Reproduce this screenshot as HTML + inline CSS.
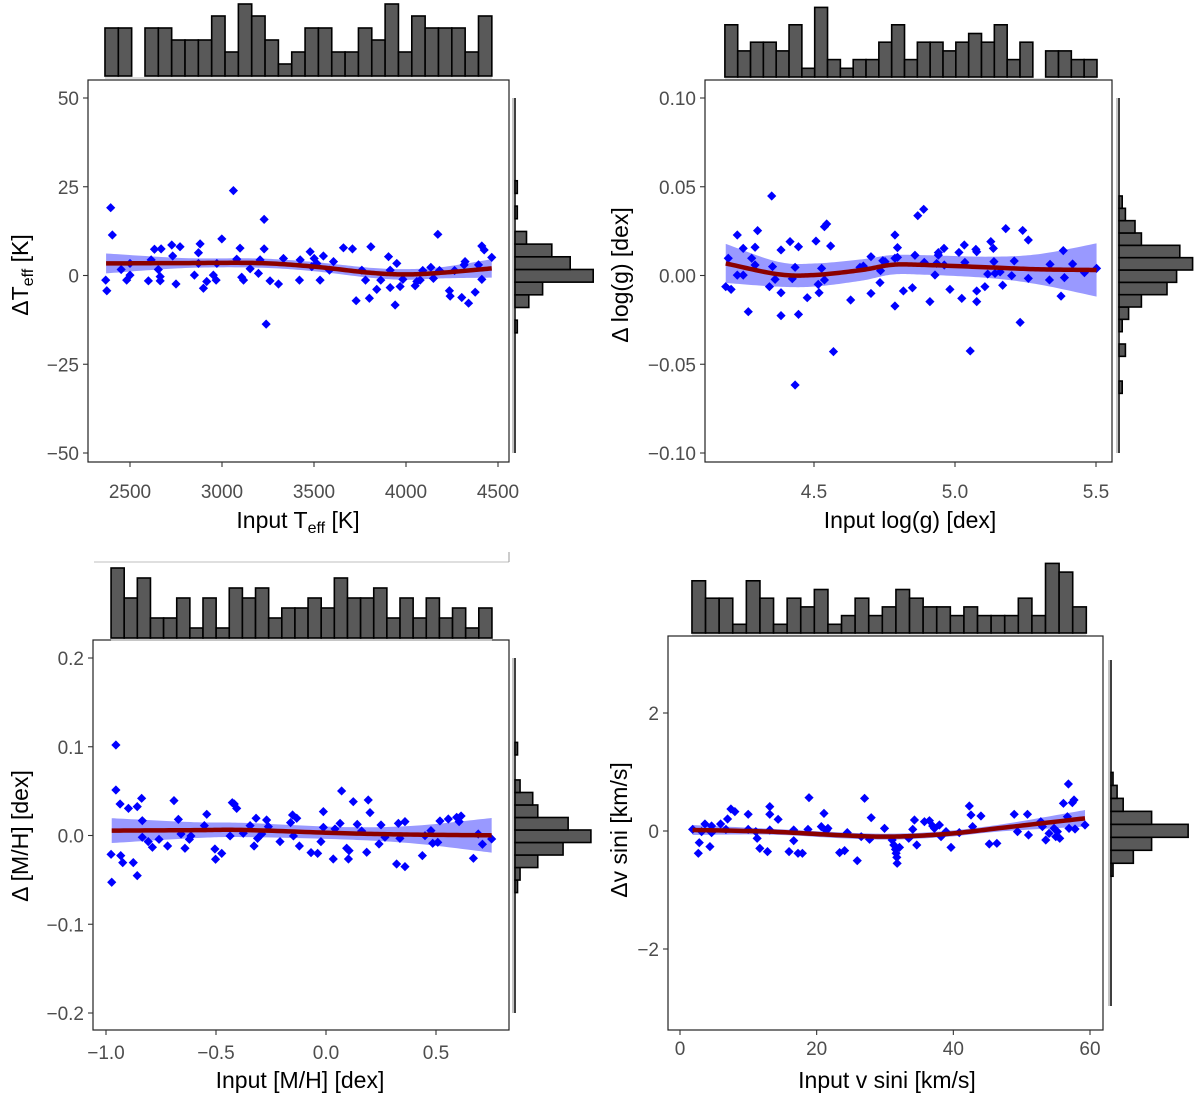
<!DOCTYPE html>
<html><head><meta charset="utf-8"><style>
html,body{margin:0;padding:0;background:#fff;}
svg{display:block;font-family:"Liberation Sans",sans-serif;}
</style></head><body>
<svg id="chart" width="1200" height="1099" viewBox="0 0 1200 1099" xmlns="http://www.w3.org/2000/svg">
<line x1="94" y1="562" x2="509" y2="562" stroke="#cccccc" stroke-width="1.2"/>
<line x1="509" y1="552" x2="509" y2="562" stroke="#999999" stroke-width="1"/>
</svg>
<script>
// ---------- Panel 1: Teff ----------
const p1x=[2368,2374,2395,2404,2452,2482,2500,2500,2600,2615,2633,2654,2669,2664,2664,2727,2732,2750,2772,2850,2872,2881,2872,2899,2917,2953,2968,2972,2999,3062,3080,3098,3107,3117,3153,3198,3207,3229,3229,3240,3261,3307,3334,3421,3425,3479,3488,3501,3515,3533,3551,3584,3606,3660,3709,3729,3760,3780,3801,3809,3841,3863,3905,3914,3914,3941,3950,3968,3983,4050,4059,4077,4091,4135,4149,4173,4182,4236,4240,4264,4303,4316,4321,4340,4376,4394,4412,4412,4425,4466];
const p1y=[-1.3,-4.3,19.1,11.4,1.7,-1.3,0.1,3.4,-1.5,4.4,7.4,1.7,7.5,-0.3,-1.5,8.6,5.5,-2.4,8.1,0.1,6.4,8.9,3.4,-3.6,-1.7,0.1,-1.3,3.4,10.3,23.9,4.6,7.7,-0.5,-1.3,1.9,0.6,4.4,15.8,7.5,-13.7,-1.5,-2.4,4.8,-1.3,4.4,6.7,2.5,4.8,3.4,-1.3,5.5,1.5,3.9,7.8,7.5,-7.1,1.5,-1.3,-6.4,8.1,-3.9,-1.3,5.3,-3.4,1.5,-8.3,3.4,-3.1,-1.1,-2.9,-1.7,-1.3,1.4,2.3,-0.8,11.6,1.4,-4.3,-5.8,1.4,-6.2,3.0,3.9,-7.8,-4.7,3.0,-1.1,8.3,7.2,5.1];
const f1x=[2370,2800,3200,3500,3800,4000,4200,4466];
const f1y=[3.4,3.5,3.5,2.5,0.8,0.3,0.8,2.0];
const f1w=[2.8,1.4,1.3,1.3,1.4,1.5,1.6,2.6];
const h1start=2364, h1width=72.5;
const h1counts=[4,4,0,4,4,3,3,3,5,2,6,5,3,1,2,4,4,2,2,4,3,6,2,5,4,4,4,2,5];
const r1start=-16.15, r1width=3.57;
const r1counts=[1,0,6,12,34,24,16,5,0,1,0,1];
const x1ticks=[2500,3000,3500,4000,4500];
const y1ticks=[50,25,0,-25,-50];
const y1labels=["50","25","0","\u221225","\u221250"];

// ---------- Panel 2: log g ----------
const p2x=[4.187,4.196,4.206,4.228,4.228,4.249,4.249,4.267,4.279,4.291,4.291,4.300,4.342,4.350,4.353,4.362,4.383,4.383,4.383,4.415,4.423,4.433,4.433,4.445,4.445,4.476,4.507,4.515,4.518,4.527,4.537,4.537,4.545,4.559,4.569,4.630,4.663,4.675,4.702,4.702,4.734,4.736,4.744,4.752,4.787,4.787,4.787,4.796,4.796,4.817,4.849,4.858,4.868,4.889,4.891,4.911,4.929,4.935,4.941,4.941,4.961,4.962,4.982,5.014,5.024,5.033,5.035,5.054,5.074,5.077,5.077,5.077,5.106,5.116,5.127,5.136,5.138,5.142,5.160,5.169,5.180,5.201,5.210,5.231,5.240,5.260,5.260,5.335,5.337,5.376,5.384,5.388,5.417,5.459,5.502];
const p2y=[-0.0063,0.0097,-0.0078,0.0228,0.0002,0.0153,0.0002,-0.0204,0.0097,0.0159,0.0059,0.0253,-0.0063,0.0448,0.0050,-0.0022,0.0144,-0.0097,-0.0226,0.0191,-0.0018,0.0046,-0.0617,0.0162,-0.0219,-0.0125,0.0194,-0.0050,-0.0097,0.0040,-0.0025,0.0275,0.0290,0.0166,-0.0429,-0.0138,0.0046,0.0053,0.0106,-0.0101,-0.0040,0.0027,0.0083,0.0078,0.0228,0.0097,-0.0172,0.0157,0.0102,-0.0087,-0.0069,0.0114,0.0337,0.0373,0.0074,-0.0147,0.0003,0.0068,0.0115,0.0129,0.0153,0.0059,-0.0078,0.0130,-0.0129,0.0172,0.0074,-0.0425,0.0147,0.0134,-0.0087,-0.0147,-0.0063,0.0008,0.0191,0.0153,0.0078,0.0012,0.0020,-0.0055,0.0264,-0.0001,0.0082,-0.0264,0.0254,0.0200,-0.0016,-0.0025,0.0063,-0.0116,0.0140,-0.0012,0.0065,0.0016,0.0040];
const f2x=[4.187,4.373,4.504,4.669,4.775,4.882,5.118,5.295,5.502];
const f2y=[0.0068,0.0007,0.0003,0.0031,0.006,0.006,0.0046,0.0035,0.0031];
const f2w=[0.011,0.007,0.0065,0.006,0.0055,0.0055,0.006,0.0085,0.015];
const h2start=4.184, h2width=0.0455;
const h2counts=[6,3,4,4,3,6,1,8,2,1,2,2,4,6,2,4,4,3,4,5,4,6,2,4,0,3,3,2,2];
const r2start=-0.0664, r2width=0.00695;
const r2counts=[1,0,0,2,0,1,3,7,15,18,23,19,7,5,2,1];
const x2ticks=[4.5,5.0,5.5];
const x2labels=["4.5","5.0","5.5"];
const y2ticks=[0.10,0.05,0,-0.05,-0.10];
const y2labels=["0.10","0.05","0.00","\u22120.05","\u22120.10"];

// ---------- Panel 3: [M/H] ----------
const p3x=[-0.977,-0.974,-0.955,-0.955,-0.936,-0.933,-0.924,-0.898,-0.876,-0.858,-0.858,-0.838,-0.835,-0.835,-0.808,-0.789,-0.759,-0.720,-0.691,-0.671,-0.659,-0.641,-0.621,-0.614,-0.553,-0.542,-0.505,-0.502,-0.474,-0.436,-0.426,-0.417,-0.406,-0.376,-0.345,-0.327,-0.318,-0.311,-0.292,-0.270,-0.262,-0.209,-0.161,-0.152,-0.148,-0.133,-0.121,-0.068,-0.038,-0.023,-0.012,-0.012,0.033,0.041,0.064,0.071,0.094,0.102,0.105,0.124,0.142,0.162,0.185,0.192,0.200,0.241,0.250,0.268,0.321,0.329,0.336,0.359,0.359,0.438,0.450,0.477,0.485,0.508,0.518,0.556,0.594,0.605,0.614,0.670,0.692,0.711,0.753];
const p3y=[-0.0212,-0.0527,0.1020,0.0513,0.0355,-0.0227,-0.0306,0.0306,-0.0306,0.0325,-0.0452,0.0419,0.0167,-0.0020,-0.0069,-0.0133,-0.0043,-0.0118,0.0393,0.0182,0.0017,-0.0144,-0.0043,-0.0005,0.0111,0.0239,-0.0152,-0.0268,-0.0201,-0.0005,0.0370,0.0355,0.0306,0.0025,0.0111,-0.0118,0.0194,-0.0032,0.0017,0.0175,0.0100,-0.0069,0.0145,0.0231,-0.0005,0.0194,-0.0118,-0.0193,-0.0201,-0.0069,0.0269,0.0092,-0.0265,0.0074,0.0137,0.0502,-0.0144,-0.0265,-0.0171,0.0381,0.0126,0.0051,-0.0189,0.0400,0.0258,-0.0096,0.0119,-0.0020,-0.0321,0.0137,-0.0032,-0.0351,0.0156,-0.0227,-0.0002,0.0055,-0.0088,-0.0077,0.0164,0.0186,0.0205,0.0156,0.0220,-0.0257,0.0017,-0.0099,-0.0039];
const f3x=[-0.974,-0.6,-0.368,0.086,0.4,0.753];
const f3y=[0.0055,0.006,0.0062,0.0025,0.001,0.0002];
const f3w=[0.014,0.009,0.008,0.007,0.01,0.0195];
const h3start=-0.977, h3width=0.0597;
const h3counts=[7,4,6,2,2,4,1,4,1,5,4,5,2,3,3,4,3,6,4,4,5,2,4,2,4,2,3,1,3];
const r3start=-0.0643, r3width=0.0141;
const r3counts=[1,2,9,19,30,21,9,7,2,0,0,1];
const x3ticks=[-1.0,-0.5,0,0.5];
const x3labels=["\u22121.0","\u22120.5","0.0","0.5"];
const y3ticks=[0.2,0.1,0,-0.1,-0.2];
const y3labels=["0.2","0.1","0.0","\u22120.1","\u22120.2"];

// ---------- Panel 4: v sini ----------
const p4x=[1.85,2.68,2.82,3.16,3.65,4.38,4.62,4.62,5.94,6.72,6.96,7.45,8.03,9.98,9.98,11.09,11.29,11.68,12.80,13.14,13.14,13.14,14.36,15.96,16.64,16.64,17.27,17.91,18.73,18.88,20.68,21.07,21.41,21.65,23.36,24.09,24.48,25.94,26.52,27.01,27.74,27.98,29.93,31.05,31.29,31.53,31.63,31.73,31.78,32.12,33.48,34.06,34.31,34.65,35.77,36.50,36.98,37.23,37.96,38.20,38.93,39.66,40.87,42.34,42.58,42.82,44.04,45.26,46.37,48.91,49.39,50.85,51.00,52.80,53.04,53.53,54.01,54.74,54.99,55.23,55.57,56.11,56.69,56.84,57.42,57.66,57.81,59.27,56.93];
const p4y=[0.028,-0.378,-0.198,-0.011,0.119,-0.265,0.085,-0.028,0.119,0.028,0.203,0.373,0.328,0.283,0.028,-0.011,-0.124,-0.294,-0.350,0.413,0.283,0.017,0.198,-0.350,-0.164,0.017,-0.378,-0.378,0.028,0.565,0.074,0.299,0.006,0.045,-0.367,-0.333,-0.028,-0.503,-0.096,0.554,-0.141,0.226,0.045,-0.153,-0.237,-0.311,-0.378,-0.446,-0.548,-0.277,-0.124,0.028,0.187,-0.237,0.158,0.175,0.085,0.045,0.102,-0.096,-0.011,-0.277,-0.028,0.424,0.271,0.074,0.254,-0.220,-0.209,0.283,-0.011,0.283,-0.068,0.158,0.074,-0.153,-0.040,0.045,-0.096,-0.011,-0.124,0.469,0.243,0.797,0.480,0.526,0.034,0.102,0.045];
const f4x=[1.85,13.14,24,31,39,47.2,59.27];
const f4y=[0.017,-0.011,-0.075,-0.095,-0.05,0.055,0.215];
const f4w=[0.085,0.05,0.05,0.05,0.05,0.06,0.14];
const h4start=1.75, h4width=1.99;
const h4counts=[6,4,4,1,6,4,1,4,3,5,1,2,4,2,3,5,4,3,3,2,3,2,2,2,4,2,8,7,3];
const r4start=-0.767, r4width=0.22;
const r4counts=[1,11,20,38,20,6,3,1];
const x4ticks=[0,20,40,60];
const y4ticks=[2,0,-2];
const y4labels=["2","0","\u22122"];

const NS="http://www.w3.org/2000/svg";
const svg=document.getElementById('chart');
function el(tag,attrs,parent){const e=document.createElementNS(NS,tag);for(const k in attrs)e.setAttribute(k,attrs[k]);(parent||svg).appendChild(e);return e;}
function lin(d0,p0,d1,p1){return v=>p0+(v-d0)*(p1-p0)/(d1-d0);}
function smooth(xs,ys){
  const pts=[];
  for(let i=0;i<xs.length-1;i++){
    const x0=xs[Math.max(i-1,0)],y0=ys[Math.max(i-1,0)],x1=xs[i],y1=ys[i],x2=xs[i+1],y2=ys[i+1],x3=xs[Math.min(i+2,xs.length-1)],y3=ys[Math.min(i+2,xs.length-1)];
    for(let t=0;t<1;t+=0.05){
      const t2=t*t,t3=t2*t;
      const f=(a,b,c,d)=>0.5*((2*b)+(-a+c)*t+(2*a-5*b+4*c-d)*t2+(-a+3*b-3*c+d)*t3);
      pts.push([f(x0,x1,x2,x3),f(y0,y1,y2,y3)]);
    }
  }
  pts.push([xs[xs.length-1],ys[ys.length-1]]);
  return pts;
}

function panel(cfg){
  const g=el('g',{});
  
  
  const sx=cfg.sx, sy=cfg.sy, b=cfg.box;
  const fr=el('rect',{x:b[0],y:b[1],width:b[2]-b[0],height:b[3]-b[1],fill:'none',stroke:'#222',"stroke-width":1.2},g);
  
  
  const up=smooth(cfg.fx,cfg.fy.map((v,i)=>v+cfg.fw[i]));
  const lo=smooth(cfg.fx,cfg.fy.map((v,i)=>v-cfg.fw[i]));
  const bandPts=up.map(p=>sx(p[0])+','+sy(p[1])).concat(lo.reverse().map(p=>sx(p[0])+','+sy(p[1])));
  const band=el('polygon',{points:bandPts.join(' '),fill:'rgba(0,0,255,0.4)'},g);
  
  
  for(let i=0;i<cfg.px.length;i++){
    const cx=sx(cfg.px[i]),cy=sy(cfg.py[i]),r=4.6;
    const d=el('polygon',{points:`${cx},${cy-r} ${cx+r},${cy} ${cx},${cy+r} ${cx-r},${cy}`,fill:'#0000ff'},g);
    
    
  }
  const fl=smooth(cfg.fx,cfg.fy);
  const line=el('polyline',{points:fl.map(p=>sx(p[0])+','+sy(p[1])).join(' '),fill:'none',stroke:'#8b0000',"stroke-width":4.5,"stroke-linejoin":"round"},g);
  
  
  cfg.xt.forEach((v,i)=>{
    const x=sx(v);
    const t=el('line',{x1:x,y1:b[3],x2:x,y2:b[3]+5,stroke:'#333',"stroke-width":1.1},g);
    
    
    const tx=el('text',{x:x,y:b[3]+cfg.xoff,"text-anchor":"middle","font-size":19,fill:'#4d4d4d'},g);
    tx.textContent=cfg.xl[i];
    
    
  });
  cfg.yt.forEach((v,i)=>{
    const y=sy(v);
    const t=el('line',{x1:b[0]-5,y1:y,x2:b[0],y2:y,stroke:'#333',"stroke-width":1.1},g);
    
    
    const tx=el('text',{x:b[0]-9,y:y+7,"text-anchor":"end","font-size":19,fill:'#4d4d4d'},g);
    tx.textContent=cfg.yl[i];
    
    
  });
  const xt=el('text',{x:cfg.xtitle[0],y:cfg.xtitle[1],"text-anchor":"middle","font-size":23,fill:'#000'},g);
  xt.innerHTML=cfg.xtitle[2];
  
  
  const yt=el('text',{x:0,y:0,"text-anchor":"middle","font-size":23,fill:'#000',transform:`translate(${cfg.ytitle[0]},${cfg.ytitle[1]}) rotate(-90)`},g);
  yt.innerHTML=cfg.ytitle[2];
  
  
  const th=cfg.th;
  const tl=el('line',{x1:sx(th.start),y1:th.base+2,x2:sx(th.start+th.width*th.counts.length),y2:th.base+2,stroke:'#bbb',"stroke-width":1},g);
  
  
  th.counts.forEach((c,i)=>{
    const x0=sx(th.start+i*th.width),x1=sx(th.start+(i+1)*th.width),h=c*th.unit;
    const r=el('rect',{x:x0,y:th.base-h,width:x1-x0,height:h,fill:'#595959',stroke:'#000',"stroke-width":1.6},g);
    
    
  });
  const rh=cfg.rh;
  const al=el('line',{x1:rh.base-2,y1:rh.ax[0],x2:rh.base-2,y2:rh.ax[1],stroke:'#888',"stroke-width":1},g);
  
  
  const al2=el('line',{x1:rh.base,y1:rh.ax[0],x2:rh.base,y2:rh.ax[1],stroke:'#000',"stroke-width":1.5},g);
  
  
  rh.counts.forEach((c,i)=>{
    if(c<=0)return;
    const y0=sy(rh.start+(i+1)*rh.width),y1=sy(rh.start+i*rh.width),w=c*rh.unit;
    const r=el('rect',{x:rh.base,y:y0,width:w,height:y1-y0,fill:'#595959',stroke:'#000',"stroke-width":1.6},g);
    
    
  });
}

panel({name:'teff-panel',box:[88,80,509,462],sx:lin(2500,130,4500,498),sy:lin(50,98,-50,453),xoff:36,
  px:p1x,py:p1y,fx:f1x,fy:f1y,fw:f1w,xt:x1ticks,xl:x1ticks.map(String),yt:y1ticks,yl:y1labels,
  xtitle:[298,528,'Input T<tspan font-size="16" dy="5">eff</tspan><tspan dy="-5"> [K]</tspan>'],
  ytitle:[28,275,'\u0394T<tspan font-size="16" dy="5">eff</tspan><tspan dy="-5"> [K]</tspan>'],
  th:{start:h1start,width:h1width,counts:h1counts,base:76,unit:12},
  rh:{start:r1start,width:r1width,counts:r1counts,base:515,unit:2.3,ax:[98,453]}});
panel({name:'logg-panel',box:[705,80,1112,462],sx:lin(4.5,814,5.5,1096),sy:lin(0.1,98,-0.1,453),xoff:36,
  px:p2x,py:p2y,fx:f2x,fy:f2y,fw:f2w,xt:x2ticks,xl:x2labels,yt:y2ticks,yl:y2labels,
  xtitle:[910,528,'Input log(g) [dex]'],ytitle:[628,275,'\u0394 log(g) [dex]'],
  th:{start:h2start,width:h2width,counts:h2counts,base:77,unit:8.7},
  rh:{start:r2start,width:r2width,counts:r2counts,base:1119,unit:3.2,ax:[98,453]}});
panel({name:'metallicity-panel',box:[93,640,509,1030],sx:lin(-1,106,0.5,436),sy:lin(0.2,658,-0.2,1013),xoff:29,
  px:p3x,py:p3y,fx:f3x,fy:f3y,fw:f3w,xt:x3ticks,xl:x3labels,yt:y3ticks,yl:y3labels,
  xtitle:[300,1088,'Input [M/H] [dex]'],ytitle:[28,836,'\u0394 [M/H] [dex]'],
  th:{start:h3start,width:h3width,counts:h3counts,base:638,unit:10},
  rh:{start:r3start,width:r3width,counts:r3counts,base:515,unit:2.53,ax:[658,1013]}});
panel({name:'vsini-panel',box:[668,636,1103,1030],sx:lin(0,680,60,1090),sy:lin(2,713,-2,949),xoff:25,
  px:p4x,py:p4y,fx:f4x,fy:f4y,fw:f4w,xt:x4ticks,xl:x4ticks.map(String),yt:y4ticks,yl:y4labels,
  xtitle:[887,1088,'Input v sini [km/s]'],ytitle:[627,830,'\u0394v sini [km/s]'],
  th:{start:h4start,width:h4width,counts:h4counts,base:633,unit:8.7},
  rh:{start:r4start,width:r4width,counts:r4counts,base:1111,unit:2.03,ax:[660,1006]}});
</script>
</body></html>
